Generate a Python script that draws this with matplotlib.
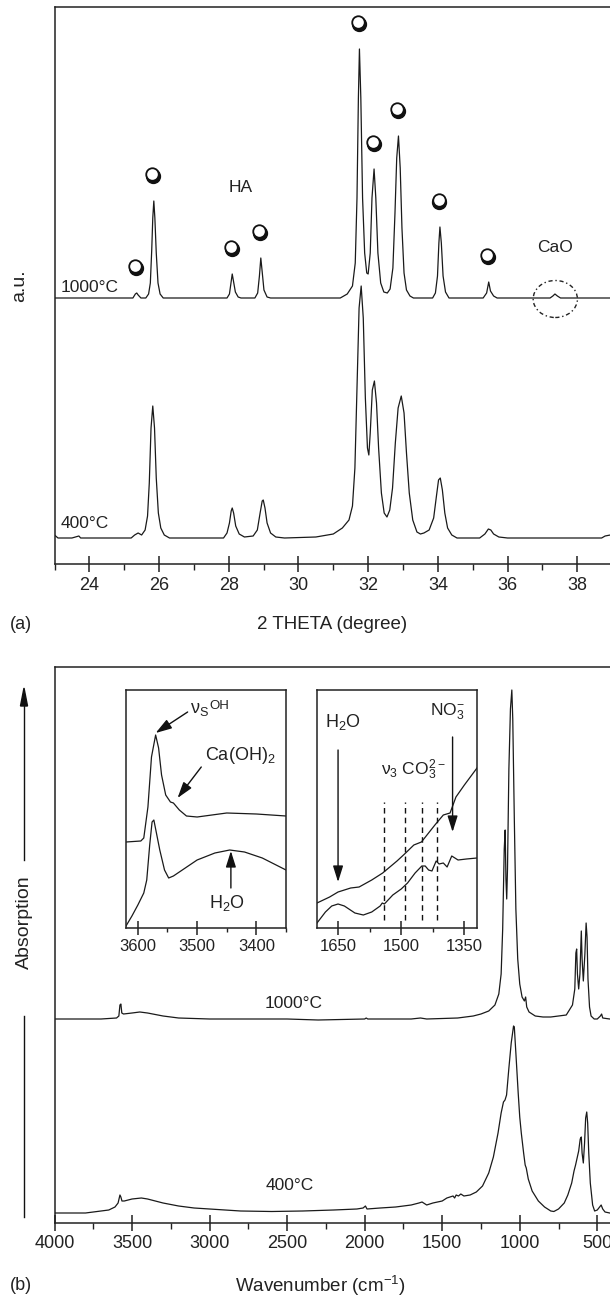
import numpy as np
import matplotlib
matplotlib.use("Agg")
import matplotlib.pyplot as plt
from matplotlib.patches import Ellipse
from matplotlib.lines import Line2D

plt.rcParams['font.family'] = ['Liberation Sans', 'DejaVu Sans']
plt.rcParams['mathtext.default'] = 'regular'

W, H = 610, 1297
TXT = '#222222'

## ---- (a) XRD data, intensities in a.u. above each baseline ----
tt_1000 = [23.0, 25.25, 25.32, 25.36, 25.4, 25.48, 25.62, 25.7, 25.75, 25.79, 25.82, 25.85, 25.88, 25.92,
           25.97, 26.03, 26.12, 27.95, 28.02, 28.06, 28.1, 28.14, 28.19, 28.27, 28.35, 28.75, 28.83, 28.88,
           28.92, 28.96, 29.01, 29.1, 29.2, 31.2, 31.4, 31.55, 31.63, 31.68, 31.72, 31.75, 31.79, 31.84,
           31.9, 31.96, 32.0, 32.06, 32.11, 32.17, 32.22, 32.28, 32.36, 32.45, 32.55, 32.63, 32.71, 32.77,
           32.82, 32.87, 32.92, 32.97, 33.03, 33.1, 33.2, 33.3, 33.85, 33.93, 33.99, 34.03, 34.06, 34.1,
           34.15, 34.22, 34.32, 35.3, 35.4, 35.46, 35.51, 35.6, 35.7, 37.22, 37.3, 37.36, 37.43, 37.52, 38.95]
i_1000 = [0, 0, 4, 5, 3, 0, 0, 4, 15, 48, 80, 97, 80, 45,
          15, 4, 0, 0, 4, 14, 24, 16, 6, 1, 0, 0, 5, 22,
          40, 26, 8, 1, 0, 0, 4, 12, 35, 100, 200, 249, 200, 100,
          45, 25, 24, 45, 100, 129, 100, 45, 15, 6, 5, 9, 30, 85,
          140, 162, 130, 70, 25, 8, 2, 0, 0, 5, 22, 55, 71, 55,
          22, 6, 0, 0, 5, 16, 7, 2, 0, 0, 2, 4, 2, 0, 0]

tt_400 = [23.0, 23.1, 23.5, 23.7, 23.75, 25.2, 25.3, 25.4, 25.5, 25.6, 25.67, 25.72, 25.77, 25.82, 25.87,
          25.92, 25.98, 26.05, 26.15, 26.3, 27.85, 27.95, 28.02, 28.07, 28.1, 28.14, 28.2, 28.3, 28.45,
          28.7, 28.82, 28.9, 28.96, 28.99, 29.04, 29.1, 29.2, 29.35, 29.6, 30.5, 31.0, 31.26, 31.45, 31.55,
          31.62, 31.68, 31.74, 31.8, 31.86, 31.92, 31.98, 32.02, 32.06, 32.12, 32.18, 32.24, 32.3, 32.38,
          32.46, 32.54, 32.62, 32.7, 32.78, 32.86, 32.95, 33.03, 33.1, 33.18, 33.28, 33.4, 33.5, 33.6,
          33.75, 33.88, 33.96, 34.02, 34.07, 34.13, 34.2, 34.28, 34.4, 34.55, 35.2, 35.35, 35.45, 35.52,
          35.6, 35.75, 36.0, 38.7, 38.8, 38.95]
i_400 = [3, 0, 0, 2, 0, 0, 3, 5, 3, 8, 22, 55, 110, 132, 110,
         60, 25, 10, 3, 0, 0, 5, 15, 27, 30, 25, 12, 4, 1,
         2, 8, 25, 37, 38, 30, 15, 5, 1, 0, 1, 4, 10, 18, 32,
         70, 150, 230, 252, 220, 140, 90, 83, 105, 148, 157, 135, 90, 45,
         25, 21, 28, 50, 95, 130, 142, 125, 85, 45, 18, 6, 4, 5,
         8, 20, 42, 58, 60, 48, 25, 10, 3, 0, 0, 4, 9, 8,
         4, 1, 0, 0, 2, 3]

ha_peaks = [25.36, 25.85, 28.1, 28.92, 31.75, 32.17, 32.87, 34.06, 35.46]

## ---- (b) FTIR data, absorption in a.u. above each baseline ----
wn_1000 = [4000, 3700, 3600, 3585, 3578, 3572, 3566, 3555, 3500, 3450, 3400, 3300, 3200, 3000, 2500,
           2300, 2000, 1990, 1980, 1700, 1640, 1600, 1400, 1300, 1250, 1200, 1160, 1135, 1120, 1110,
           1100, 1094, 1089, 1084, 1079, 1070, 1060, 1051, 1045, 1035, 1025, 1013, 1000, 985, 970,
           962, 955, 940, 900, 850, 800, 700, 660, 645, 638, 633, 628, 620, 612, 603, 598, 590, 580,
           572, 566, 560, 550, 540, 520, 500, 480, 472, 465, 420]
a_1000 = [0, 0, 1, 3, 14, 15, 6, 5, 6, 7, 6, 3, 1, 0, 0,
          -1, 0, 1, 0, 0, 1, 0, 1, 3, 5, 8, 14, 25, 45, 90,
          170, 189, 140, 120, 150, 250, 310, 329, 300, 200, 110, 60, 35, 22, 18,
          22, 12, 7, 3, 2, 2, 4, 14, 30, 66, 70, 45, 30, 45, 88, 60, 38, 65,
          96, 82, 40, 12, 3, 0, 0, 3, 5, 1, 0]

wn_400 = [4000, 3800, 3700, 3650, 3610, 3590, 3578, 3572, 3565, 3550, 3500, 3440, 3400, 3300, 3200,
          3100, 3000, 2800, 2600, 2400, 2200, 2050, 2010, 1995, 1985, 1900, 1800, 1700, 1650, 1630,
          1600, 1560, 1500, 1470, 1450, 1430, 1420, 1410, 1395, 1380, 1360, 1320, 1280, 1240, 1200,
          1170, 1140, 1120, 1105, 1095, 1085, 1070, 1055, 1040, 1035, 1025, 1010, 1000, 990, 975,
          965, 958, 945, 920, 880, 840, 800, 780, 750, 713, 690, 665, 650, 640, 630, 620, 610, 603,
          598, 590, 582, 575, 568, 562, 555, 545, 530, 517, 500, 485, 475, 465, 450, 420]
a_400 = [0, 0, 2, 3, 6, 10, 18, 16, 12, 12, 14, 15, 14, 10, 7,
         5, 4, 2, 1.5, 2, 3, 4, 5, 7, 4, 5, 6, 8, 10, 11,
         8, 10, 12, 15, 16, 17, 15, 18, 17, 19, 17, 18, 21, 27, 40,
         56, 80, 100, 111, 113, 118, 145, 170, 187, 186, 160, 120, 96, 80, 60,
         48, 45, 34, 22, 12, 6, 2, 1.5, 4, 10, 18, 30, 42, 48, 55, 62, 74, 76,
         60, 50, 70, 95, 101, 90, 60, 30, 8, 2, 3, 6, 8, 4, 1, 0]

## insets (values in inset units)
oh_wn_1000 = [3620, 3595, 3590, 3583, 3577, 3570, 3565, 3560, 3553, 3545, 3540, 3530, 3518, 3500, 3450, 3400, 3350]
oh_a_1000 = [86, 87, 90, 121, 171, 193, 180, 153, 133, 126, 125, 118, 112, 111, 115, 114, 112]
oh_wn_400 = [3620, 3610, 3600, 3590, 3585, 3580, 3576, 3573, 3568, 3563, 3555, 3548, 3540, 3520, 3500, 3470,
             3445, 3420, 3390, 3350]
oh_a_400 = [2, 12, 23, 35, 48, 83, 106, 108, 93, 78, 58, 50, 52, 60, 68, 75, 78, 76, 70, 58]

co_wn_a = [1700, 1670, 1650, 1620, 1600, 1570, 1544, 1510, 1492, 1470, 1452, 1420, 1400, 1384, 1370, 1350, 1320]
co_a_a = [25, 31, 36, 40, 41, 48, 55, 67, 74, 83, 86, 103, 113, 115, 131, 143, 160]
co_wn_b = [1700, 1680, 1665, 1650, 1635, 1610, 1590, 1570, 1550, 1545, 1540, 1520, 1500, 1485, 1467, 1451,
           1443, 1435, 1427, 1417, 1410, 1400, 1391, 1380, 1365, 1345, 1320]
co_a_b = [5, 16, 22, 24, 22, 15, 13, 16, 22, 25, 24, 33, 39, 45, 55, 62,
          62, 58, 57, 67, 64, 65, 61, 72, 68, 69, 70]
co3_lines = [1540, 1490, 1450, 1415]


def frect(l, t, r, b):
    return [l / W, 1 - b / H, (r - l) / W, (b - t) / H]


def style_axis(ax, major, minor, size=13):
    for s in ['top', 'bottom', 'left', 'right']:
        ax.spines[s].set_linewidth(1.1)
        ax.spines[s].set_color('#222222')
    ax.set_yticks([])
    ax.xaxis.set_major_locator(plt.MultipleLocator(major))
    ax.xaxis.set_minor_locator(plt.MultipleLocator(minor))
    ax.tick_params(axis='x', which='major', direction='inout', length=12, width=1.1,
                   labelsize=size, pad=3, colors='#222222')
    ax.tick_params(axis='x', which='minor', direction='out', length=4, width=1.0, colors='#222222')


fig = plt.figure(figsize=(W / 100, H / 100), dpi=100)

## ---------- (a) ----------
off_a = 240
ax = fig.add_axes(frect(54.5, 7, 610, 564))
ax.plot(tt_1000, np.array(i_1000) + off_a, color='#1a1a1a', lw=0.9)
ax.plot(tt_400, i_400, color='#1a1a1a', lw=0.9)
ax.set_xlim(23, 38.94)
ax.set_ylim(-26, 531)
style_axis(ax, 2, 1)
ax.spines['right'].set_visible(False)
ax.set_ylabel('a.u.', fontsize=14, color=TXT, labelpad=19)

mk_x = np.array(ha_peaks) - 0.04
mk_y = np.interp(ha_peaks, tt_1000, i_1000) + off_a + 27
ax.plot(mk_x + 0.025, mk_y - 2, 'o', ms=10, color='#111111', ls='none')
ax.plot(mk_x, mk_y, 'o', ms=9, mfc='white', mec='#111111', mew=1.3, ls='none')

ax.text(23.19, off_a + 11, '1000°C', fontsize=12.5, color=TXT, va='center')
ax.text(23.19, 15, '400°C', fontsize=12.5, color=TXT, va='center')
ax.text(28.33, 350, 'HA', fontsize=12.5, color=TXT, ha='center', va='center')
ax.text(37.36, 291, 'CaO', fontsize=12.5, color=TXT, ha='center', va='center')
ax.add_patch(Ellipse((37.37, off_a - 1), 1.27, 37, fill=False, ec='#222222', lw=1.0,
                     ls=(0, (3, 2, 1, 2))))

fig.text(10 / W, 1 - 625 / H, '(a)', fontsize=13, color=TXT, va='center')
fig.text(332 / W, 1 - 625 / H, '2 THETA (degree)', fontsize=13.5, color=TXT, va='center', ha='center')

## ---------- (b) ----------
off_b = 194
bx = fig.add_axes(frect(54.5, 667, 610, 1223))
bx.plot(wn_1000, np.array(a_1000) + off_b, color='#1a1a1a', lw=0.9)
bx.plot(wn_400, a_400, color='#1a1a1a', lw=0.9)
bx.set_xlim(4000, 418)
bx.set_ylim(-10, 546)
style_axis(bx, 500, 250)
bx.spines['right'].set_visible(False)
bx.text(2457, off_b + 16, '1000°C', fontsize=12.5, color=TXT, ha='center', va='center')
bx.text(2483, 27, '400°C', fontsize=12.5, color=TXT, ha='center', va='center')

fig.text(10 / W, 1 - 1286 / H, '(b)', fontsize=13, color=TXT, va='center')
fig.text(320 / W, 1 - 1286 / H, 'Wavenumber (cm$^{-1}$)', fontsize=13.5, color=TXT, va='center', ha='center')

# Absorption arrow on the left
fig.add_artist(Line2D([24 / W, 24 / W], [1 - 860 / H, 1 - 700 / H], color='#111111', lw=1.0))
fig.patches.append(plt.Polygon([[24 / W, 1 - 688 / H], [20.5 / W, 1 - 706 / H], [27.5 / W, 1 - 706 / H]],
                               closed=True, color='#111111', transform=fig.transFigure))
fig.text(24 / W, 1 - 922 / H, 'Absorption', rotation=90, fontsize=14, color=TXT, ha='center', va='center')
fig.add_artist(Line2D([24 / W, 24 / W], [1 - 1016 / H, 1 - 1217 / H], color='#111111', lw=1.0))

arrow = dict(arrowstyle='-|>,head_length=0.7,head_width=0.22', color='#111111', lw=1.0,
             shrinkA=0, shrinkB=0, mutation_scale=14)

# inset OH
ix = fig.add_axes(frect(126, 690, 286, 928))
ix.plot(oh_wn_1000, oh_a_1000, color='#1a1a1a', lw=0.9)
ix.plot(oh_wn_400, oh_a_400, color='#1a1a1a', lw=0.9)
ix.set_xlim(3620, 3350)
ix.set_ylim(0, 238)
style_axis(ix, 100, 50, size=12)
ix.tick_params(axis='x', which='major', length=10)
ix.tick_params(axis='x', which='minor', length=3)
ix.annotate('', xy=(3570, 195), xytext=(3516, 216), arrowprops=arrow)
ix.text(3512, 218, r'ν$_S$', fontsize=13, color=TXT, va='center')
ix.text(3480, 222, 'OH', fontsize=9.5, color=TXT, va='center')
ix.text(3487, 173, r'Ca(OH)$_2$', fontsize=13, color=TXT, va='center')
ix.annotate('', xy=(3533, 130), xytext=(3493, 161), arrowprops=arrow)
ix.annotate('', xy=(3443, 77), xytext=(3443, 40), arrowprops=arrow)
ix.text(3450, 25, r'H$_2$O', fontsize=13, color=TXT, ha='center', va='center')

# inset carbonate / nitrate
jx = fig.add_axes(frect(317, 690, 477, 928))
jx.plot(co_wn_a, co_a_a, color='#1a1a1a', lw=0.9)
jx.plot(co_wn_b, co_a_b, color='#1a1a1a', lw=0.9)
jx.set_xlim(1700, 1320)
jx.set_ylim(0, 238)
style_axis(jx, 150, 75, size=12)
jx.tick_params(axis='x', which='major', length=10)
jx.tick_params(axis='x', which='minor', length=3)
for w in co3_lines:
    jx.axvline(w, ymin=0.035, ymax=0.53, color='#111111', lw=1.0, ls=(0, (4, 3)))
jx.annotate('', xy=(1650, 46), xytext=(1650, 178), arrowprops=arrow)
jx.text(1680, 206, r'H$_2$O', fontsize=13, color=TXT, va='center')
jx.annotate('', xy=(1378, 96), xytext=(1378, 191), arrowprops=arrow)
jx.text(1390, 216, r'NO$_3^{-}$', fontsize=12.5, color=TXT, ha='center', va='center')
jx.text(1470, 158, r'ν$_3$ CO$_3^{2-}$', fontsize=12.5, color=TXT, ha='center', va='center')

fig.savefig('out.png', dpi=100)
